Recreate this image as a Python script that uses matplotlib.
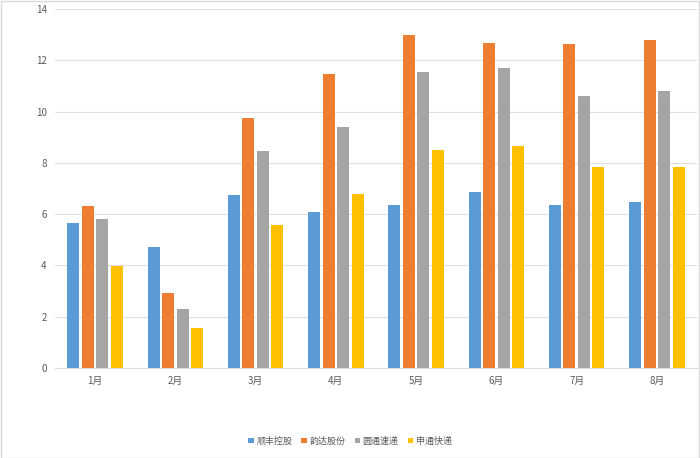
import matplotlib
matplotlib.use("Agg")
import matplotlib.pyplot as plt
import numpy as np

plt.rcParams["font.family"] = ["Noto Sans CJK SC", "DejaVu Sans"]

months = ["1月", "2月", "3月", "4月", "5月", "6月", "7月", "8月"]
series_names = ["顺丰控股", "韵达股份", "圆通速递", "申通快递"]
sf = [5.65, 4.72, 6.75, 6.08, 6.34, 6.86, 6.34, 6.49]
yd = [6.32, 2.93, 9.75, 11.47, 12.97, 12.68, 12.64, 12.79]
yt = [5.81, 2.30, 8.46, 9.40, 11.53, 11.70, 10.61, 10.82]
sto = [3.98, 1.56, 5.58, 6.79, 8.50, 8.65, 7.84, 7.84]
colors = ["#5b9bd5", "#ed7d31", "#a5a5a5", "#ffc000"]

fig = plt.figure(figsize=(7, 4.58), dpi=100)
ax = fig.add_axes([55 / 700, 1 - 368 / 458, 642 / 700, 359 / 458])

x = np.arange(len(months))
step, w = 0.18, 0.15
for k, (vals, name) in enumerate(zip([sf, yd, yt, sto], series_names)):
    ax.bar(x + (k - 1.5) * step, vals, width=w, color=colors[k], label=name,
           zorder=3)

ax.set_xlim(-0.5, len(months) - 0.5)
ax.set_ylim(0, 14)
ax.set_yticks(range(0, 15, 2))
ax.set_xticks(x)
ax.set_xticklabels(months)
ax.tick_params(axis="both", length=0, labelsize=7, colors="#595959", pad=6)
ax.grid(axis="y", color="#e0e0e0", lw=0.8, zorder=0)
for s in ["top", "right", "left"]:
    ax.spines[s].set_visible(False)
ax.spines["bottom"].set_color("#d9d9d9")

fig.legend(loc="center", bbox_to_anchor=(0.5, 1 - 441 / 458), ncol=4,
           frameon=False, fontsize=6.5, handlelength=0.6, handleheight=0.6,
           handletextpad=0.3, columnspacing=1.0, labelcolor="#595959")

fig.patches.append(plt.Rectangle((0.001, 0.001), 0.997, 0.997,
                                 transform=fig.transFigure, fill=False,
                                 edgecolor="#d9d9d9", lw=1))
fig.savefig("out.png", dpi=100)
